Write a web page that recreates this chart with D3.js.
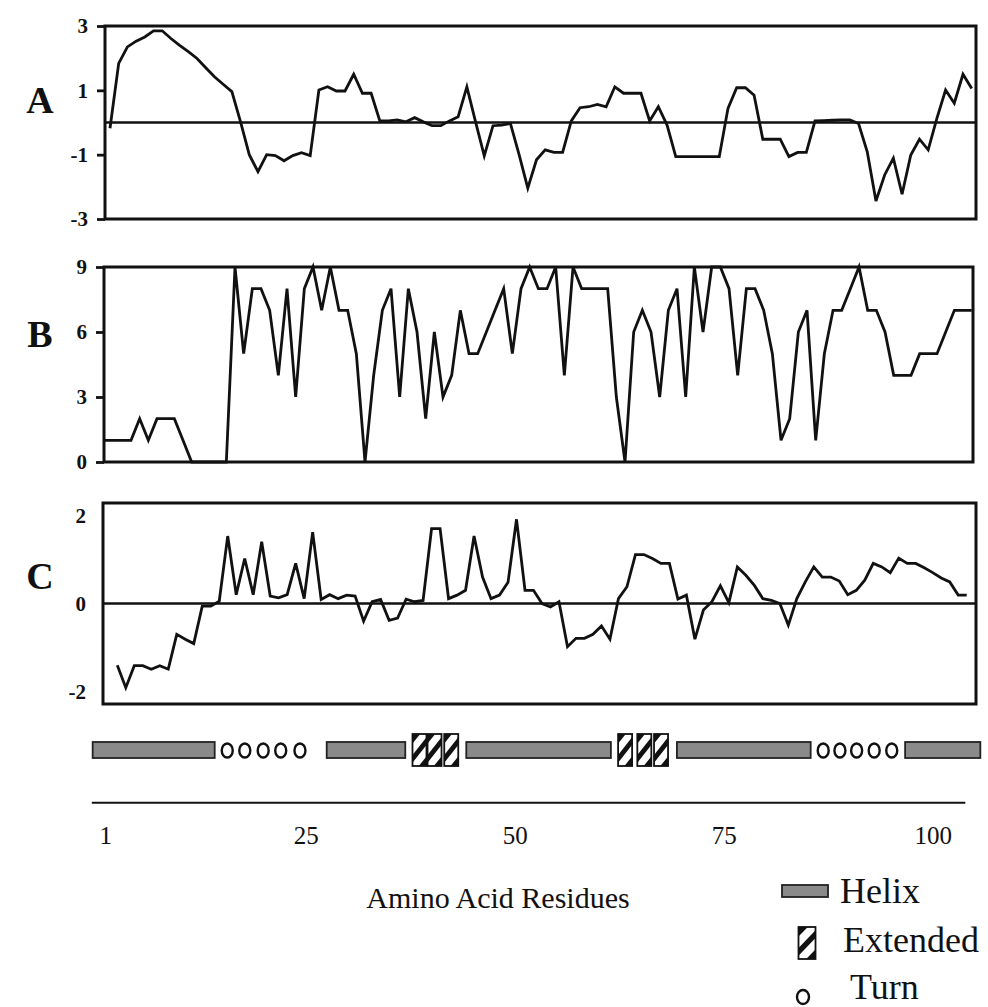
<!DOCTYPE html>
<html>
<head>
<meta charset="utf-8">
<script src="https://cdn.jsdelivr.net/npm/d3@7"></script>
<style>
body { margin: 0; background: #fff; }
svg text { font-family: "Liberation Serif", "Times New Roman", serif; fill: #111; }
</style>
</head>
<body>
<div id="chart"></div>
<script>
// profile values, one per residue
const valuesA = [-0.18, 1.84, 2.35, 2.53, 2.66, 2.85, 2.85, 2.61, 2.40, 2.20,
  1.99, 1.70, 1.42, 1.19, 0.96, 0.02, -1.0, -1.53, -1.0, -1.03,
  -1.19, -1.03, -0.94, -1.03, 1.01, 1.11, 0.98, 0.98, 1.5, 0.91,
  0.91, 0.05, 0.05, 0.08, 0.02, 0.15, 0.02, -0.1, -0.1, 0.05,
  0.18, 1.11, 0.02, -1.04, -0.1, -0.08, -0.03, -1.0, -2.04, -1.16,
  -0.85, -0.93, -0.93, 0.05, 0.46, 0.49, 0.56, 0.49, 1.11, 0.91,
  0.91, 0.91, 0.05, 0.49, -0.08, -1.06, -1.06, -1.06, -1.06, -1.06,
  -1.06, 0.44, 1.08, 1.08, 0.85, -0.52, -0.52, -0.52, -1.06, -0.93,
  -0.93, 0.05, 0.06, 0.07, 0.08, 0.08, -0.03, -0.91, -2.44, -1.63,
  -1.11, -2.23, -1.01, -0.52, -0.85, 0.13, 1.01, 0.6, 1.5, 1.06];

const valuesB = [1, 1, 1, 1, 2, 1, 2, 2, 2, 1,
  0, 0, 0, 0, 0, 9, 5, 8, 8, 7,
  4, 8, 3, 8, 9, 7, 9, 7, 7, 5,
  0, 4, 7, 8, 3, 8, 6, 2, 6, 3,
  4, 7, 5, 5, 6, 7, 8, 5, 8, 9,
  8, 8, 9, 4, 9, 8, 8, 8, 8, 3,
  0, 6, 7, 6, 3, 7, 8, 3, 9, 6,
  9, 9, 8, 4, 8, 8, 7, 5, 1, 2,
  6, 7, 1, 5, 7, 7, 8, 9, 7, 7,
  6, 4, 4, 4, 5, 5, 5, 6, 7, 7, 7];

const valuesC = [-1.40, -1.91, -1.41, -1.41, -1.49, -1.41, -1.49, -0.70, -0.81, -0.91,
  -0.06, -0.06, 0.05, 1.53, 0.20, 1.02, 0.20, 1.40, 0.17, 0.13,
  0.20, 0.91, 0.11, 1.62, 0.09, 0.20, 0.11, 0.19, 0.17, -0.40,
  0.04, 0.09, -0.38, -0.33, 0.10, 0.04, 0.07, 1.70, 1.70, 0.11,
  0.19, 0.30, 1.53, 0.60, 0.11, 0.19, 0.48, 1.91, 0.30, 0.30,
  0.0, -0.08, 0.04, -0.98, -0.79, -0.79, -0.70, -0.51, -0.81, 0.11,
  0.38, 1.11, 1.11, 1.02, 0.91, 0.91, 0.10, 0.19, -0.81, -0.15,
  0.04, 0.40, 0.02, 0.83, 0.64, 0.41, 0.11, 0.07, 0.0, -0.49,
  0.11, 0.49, 0.83, 0.60, 0.60, 0.51, 0.20, 0.30, 0.53, 0.91,
  0.83, 0.70, 1.03, 0.91, 0.91, 0.81, 0.70, 0.58, 0.49, 0.19, 0.19];

const ticksA = [3, 1, -1, -3];
const ticksB = [9, 6, 3, 0];
const ticksC = [2, 0, -2];

// secondary structure track, in residue units
const residueTicks = [1, 25, 50, 75, 100];
const helixSegs = [[-0.5, 14.1], [27.5, 36.9], [44.2, 61.5], [69.4, 85.4], [96.7, 105.7]];
const extendedRes = [38.6, 40.4, 42.4, 63.2, 65.5, 67.5];
const turnRes = [15.6, 17.7, 19.9, 22.0, 24.3, 86.9, 88.9, 90.9, 93.0, 95.1];
const axisExtent = [-0.6, 103.9];
const legendLabels = ["Helix", "Extended", "Turn"];

const W = 988, H = 1007;
const svg = d3.select("#chart").append("svg")
  .attr("width", W).attr("height", H);

const panels = [
  {name: "A", values: valuesA, ticks: ticksA, domain: [-3, 3], left: 105, right: 976, top: 26, bottom: 219, x0: 110, x1: 971.7, zero: true, marks: true, letterY: 100},
  {name: "B", values: valuesB, ticks: ticksB, domain: [0, 9], left: 104, right: 973, top: 267, bottom: 462, x0: 105, x1: 971.7, zero: false, marks: true, letterY: 334},
  {name: "C", values: valuesC, ticks: ticksC, domain: [-2.28, 2.28], left: 103, right: 976, top: 503, bottom: 704, x0: 117.3, x1: 966.7, zero: true, marks: false, letterY: 576}
];

const fmt = d => String(d);

panels.forEach(p => {
  const x = d3.scaleLinear().domain([1, p.values.length]).range([p.x0, p.x1]);
  const y = d3.scaleLinear().domain(p.domain).range([p.bottom, p.top]);
  const g = svg.append("g");

  // y axis labels (and short ticks)
  const yAxis = d3.axisLeft(y).tickValues(p.ticks).tickFormat(fmt)
    .tickSize(p.marks ? 8 : 0).tickPadding(p.marks ? 9 : 17);
  const ax = g.append("g").attr("transform", "translate(" + p.left + ",0)").call(yAxis);
  ax.select(".domain").remove();
  ax.selectAll("line").attr("stroke", "#111").attr("stroke-width", 2.8);
  ax.selectAll("text").attr("font-size", 21).attr("font-weight", "bold");

  if (p.zero) {
    g.append("line")
      .attr("x1", p.left).attr("x2", p.right)
      .attr("y1", y(0)).attr("y2", y(0))
      .attr("stroke", "#111").attr("stroke-width", 2.4);
  }

  g.append("path")
    .datum(p.values)
    .attr("fill", "none")
    .attr("stroke", "#111")
    .attr("stroke-width", 2.8)
    .attr("d", d3.line().x((d, i) => x(i + 1)).y(d => y(d)));

  g.append("rect")
    .attr("x", p.left).attr("y", p.top)
    .attr("width", p.right - p.left).attr("height", p.bottom - p.top)
    .attr("fill", "none").attr("stroke", "#111").attr("stroke-width", 3);

  g.append("text")
    .attr("x", 40).attr("y", p.letterY)
    .attr("dy", "0.35em")
    .attr("text-anchor", "middle")
    .attr("font-size", 38).attr("font-weight", "bold")
    .text(p.name);
});

// residue axis under the structure track
const xr = d3.scaleLinear().domain([1, 100]).range([105.2, 932.7]);
const axisY = 802.7;
svg.append("line")
  .attr("x1", xr(axisExtent[0])).attr("x2", xr(axisExtent[1]))
  .attr("y1", axisY).attr("y2", axisY)
  .attr("stroke", "#111").attr("stroke-width", 2);
const bx = svg.append("g").attr("transform", "translate(0," + axisY + ")")
  .call(d3.axisBottom(xr).tickValues(residueTicks).tickFormat(fmt).tickSize(0).tickPadding(24));
bx.select(".domain").remove();
bx.selectAll("text").attr("font-size", 25);

svg.append("text")
  .attr("x", 498).attr("y", 908)
  .attr("text-anchor", "middle")
  .attr("font-size", 30)
  .text("Amino Acid Residues");

// structure track
const trackMid = 750;
const helixH = 16, extW = 14, extH = 32;
const helixFill = "#8a8a8a";

svg.selectAll("rect.helix")
  .data(helixSegs).enter().append("rect")
  .attr("class", "helix")
  .attr("x", d => xr(d[0]))
  .attr("y", trackMid - helixH / 2)
  .attr("width", d => xr(d[1]) - xr(d[0]))
  .attr("height", helixH)
  .attr("fill", helixFill).attr("stroke", "#222").attr("stroke-width", 1.8);

function extendedBox(sel, cx, cy, w, h, id) {
  const x0 = cx - w / 2, y0 = cy - h / 2;
  const defs = svg.select("defs").empty() ? svg.append("defs") : svg.select("defs");
  defs.append("clipPath").attr("id", id)
    .append("rect").attr("x", x0).attr("y", y0).attr("width", w).attr("height", h);
  const g = sel.append("g");
  g.append("rect").attr("x", x0).attr("y", y0).attr("width", w).attr("height", h).attr("fill", "#fff");
  const c = g.append("g").attr("clip-path", "url(#" + id + ")");
  const pts = [
    [[0, 0.66], [1, 0.1], [1, 0.34], [0, 0.9]],
    [[0, 0], [0.55, 0], [0, 0.3]],
    [[1, 1], [0.45, 1], [1, 0.7]]
  ];
  pts.forEach(poly => {
    c.append("polygon")
      .attr("points", poly.map(q => (x0 + q[0] * w) + "," + (y0 + q[1] * h)).join(" "))
      .attr("fill", "#111");
  });
  g.append("rect").attr("x", x0).attr("y", y0).attr("width", w).attr("height", h)
    .attr("fill", "none").attr("stroke", "#111").attr("stroke-width", 1.8);
}

extendedRes.forEach((r, i) => extendedBox(svg, xr(r), trackMid, extW, extH, "ext" + i));

svg.selectAll("ellipse.turn")
  .data(turnRes).enter().append("ellipse")
  .attr("class", "turn")
  .attr("cx", d => xr(d)).attr("cy", trackMid + 0.5)
  .attr("rx", 5.5).attr("ry", 7)
  .attr("fill", "#fff").attr("stroke", "#111").attr("stroke-width", 2.4);

// legend
const legendRows = [903, 952, 999];
const lg = svg.append("g");
lg.append("rect")
  .attr("x", 782).attr("y", 885).attr("width", 46).attr("height", 12)
  .attr("fill", helixFill).attr("stroke", "#222").attr("stroke-width", 1.8);
extendedBox(lg, 807, 943, 17, 32, "extLegend");
lg.append("ellipse")
  .attr("cx", 803).attr("cy", 997).attr("rx", 6).attr("ry", 7)
  .attr("fill", "#fff").attr("stroke", "#111").attr("stroke-width", 2.4);
lg.selectAll("text.leg")
  .data(legendLabels).enter().append("text")
  .attr("class", "leg")
  .attr("x", (d, i) => [840, 843, 850][i])
  .attr("y", (d, i) => legendRows[i])
  .attr("font-size", 36)
  .text(d => d);
</script>
</body>
</html>
